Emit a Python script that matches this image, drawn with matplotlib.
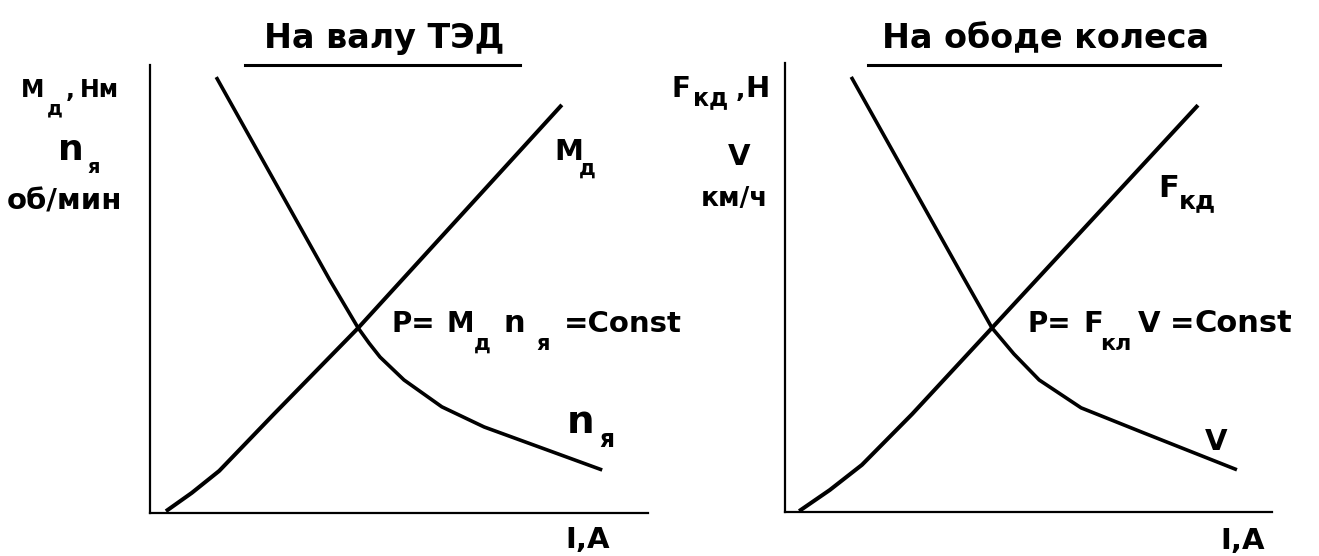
import matplotlib
matplotlib.use("Agg")
import matplotlib.pyplot as plt
from matplotlib.lines import Line2D

W, H = 1319, 556
DPI = 100

# ---- data (axis units: current I along x, quantity along y) ----
left_n_x = [1.33, 3.61, 4.18, 4.40, 4.62, 5.10, 5.86, 6.71, 7.97, 9.08]
left_n_y = [9.73, 5.20, 4.13, 3.79, 3.48, 2.97, 2.37, 1.92, 1.41, 0.96]
left_m_x = [0.32, 0.84, 1.39, 2.49, 4.18, 8.27]
left_m_y = [0.04, 0.45, 0.94, 2.21, 4.13, 9.11]

right_v_x = [1.36, 3.66, 4.25, 4.70, 5.22, 6.08, 7.37, 9.28]
right_v_y = [9.69, 5.23, 4.10, 3.52, 2.94, 2.32, 1.76, 0.94]
right_f_x = [0.29, 0.92, 1.58, 2.61, 4.25, 8.48]
right_f_y = [0.02, 0.49, 1.05, 2.18, 4.10, 9.06]

titles = ["На валу ТЭД", "На ободе колеса"]

fig = plt.figure(figsize=(W / DPI, H / DPI), dpi=DPI)
fig.patch.set_facecolor("white")

def px_axes(x0, x1, ytop, ybot):
    return fig.add_axes([x0 / W, 1 - ybot / H, (x1 - x0) / W, (ybot - ytop) / H])

def txt(x, y, s, size, ha="left", va="baseline"):
    fig.text(x / W, 1 - y / H, s, fontsize=size, family="DejaVu Sans", ha=ha, va=va,
             weight="bold", color="black")

def hline(x0, x1, y, lw=2.2):
    fig.add_artist(Line2D([x0 / W, x1 / W], [1 - y / H, 1 - y / H], color="black",
                          lw=lw, transform=fig.transFigure))

axL = px_axes(150, 648, 65, 513)
axR = px_axes(785, 1272, 63, 512)

for ax in (axL, axR):
    ax.set_xlim(0, 10)
    ax.set_ylim(0, 10)
    ax.set_xticks([])
    ax.set_yticks([])
    for s in ("top", "right"):
        ax.spines[s].set_visible(False)
    for s in ("left", "bottom"):
        ax.spines[s].set_linewidth(1.6)
    ax.patch.set_alpha(0)

axL.plot(left_n_x, left_n_y, color="black", lw=2.6, solid_capstyle="butt", solid_joinstyle="round")
axL.plot(left_m_x, left_m_y, color="black", lw=2.9, solid_capstyle="butt", solid_joinstyle="round")
axR.plot(right_v_x, right_v_y, color="black", lw=2.6, solid_capstyle="butt", solid_joinstyle="round")
axR.plot(right_f_x, right_f_y, color="black", lw=2.9, solid_capstyle="butt", solid_joinstyle="round")

# titles + underlines
txt(384, 48, titles[0], 24, ha="center")
hline(245, 520, 65)
txt(1045, 48, titles[1], 24, ha="center")
hline(868, 1220, 65)

# left y label
txt(21, 97, "М", 17)
txt(47, 114, "д", 14)
txt(66, 97, ",", 17)
txt(80, 97, "Нм", 17)
txt(58, 160, "n", 26)
txt(87, 173, "я", 14)
txt(7, 209, "об/мин", 21)

# right y label
txt(672, 97, "F", 20)
txt(693, 105, "кд", 17)
txt(736, 97, ",", 18)
txt(745, 97, "Н", 21)
txt(728, 165, "V", 21)
txt(701, 206, "км/ч", 19)

# curve labels left
txt(554, 160, "М", 21)
txt(579, 175, "д", 15)
txt(567, 433, "n", 28)
txt(599, 447, "я", 17)
txt(565, 548, "I,A", 21)

# curve labels right
txt(1158, 197, "F", 22)
txt(1179, 208, "кд", 18)
txt(1205, 450, "V", 21)
txt(1220, 549, "I,A", 21)

# formula left
txt(391, 332, "P=", 20)
txt(446, 332, "М", 20)
txt(474, 350, "д", 15)
txt(503, 332, "n", 22)
txt(536, 350, "я", 15)
txt(564, 332, "=Const", 21)

# formula right
txt(1028, 332, "P=", 20)
txt(1083, 332, "F", 21)
txt(1100, 350, "кл", 16)
txt(1138, 332, "V", 21)
txt(1170, 332, "=", 21)
txt(1195, 332, "Const", 22)

fig.savefig("out.png", dpi=DPI, facecolor="white")
